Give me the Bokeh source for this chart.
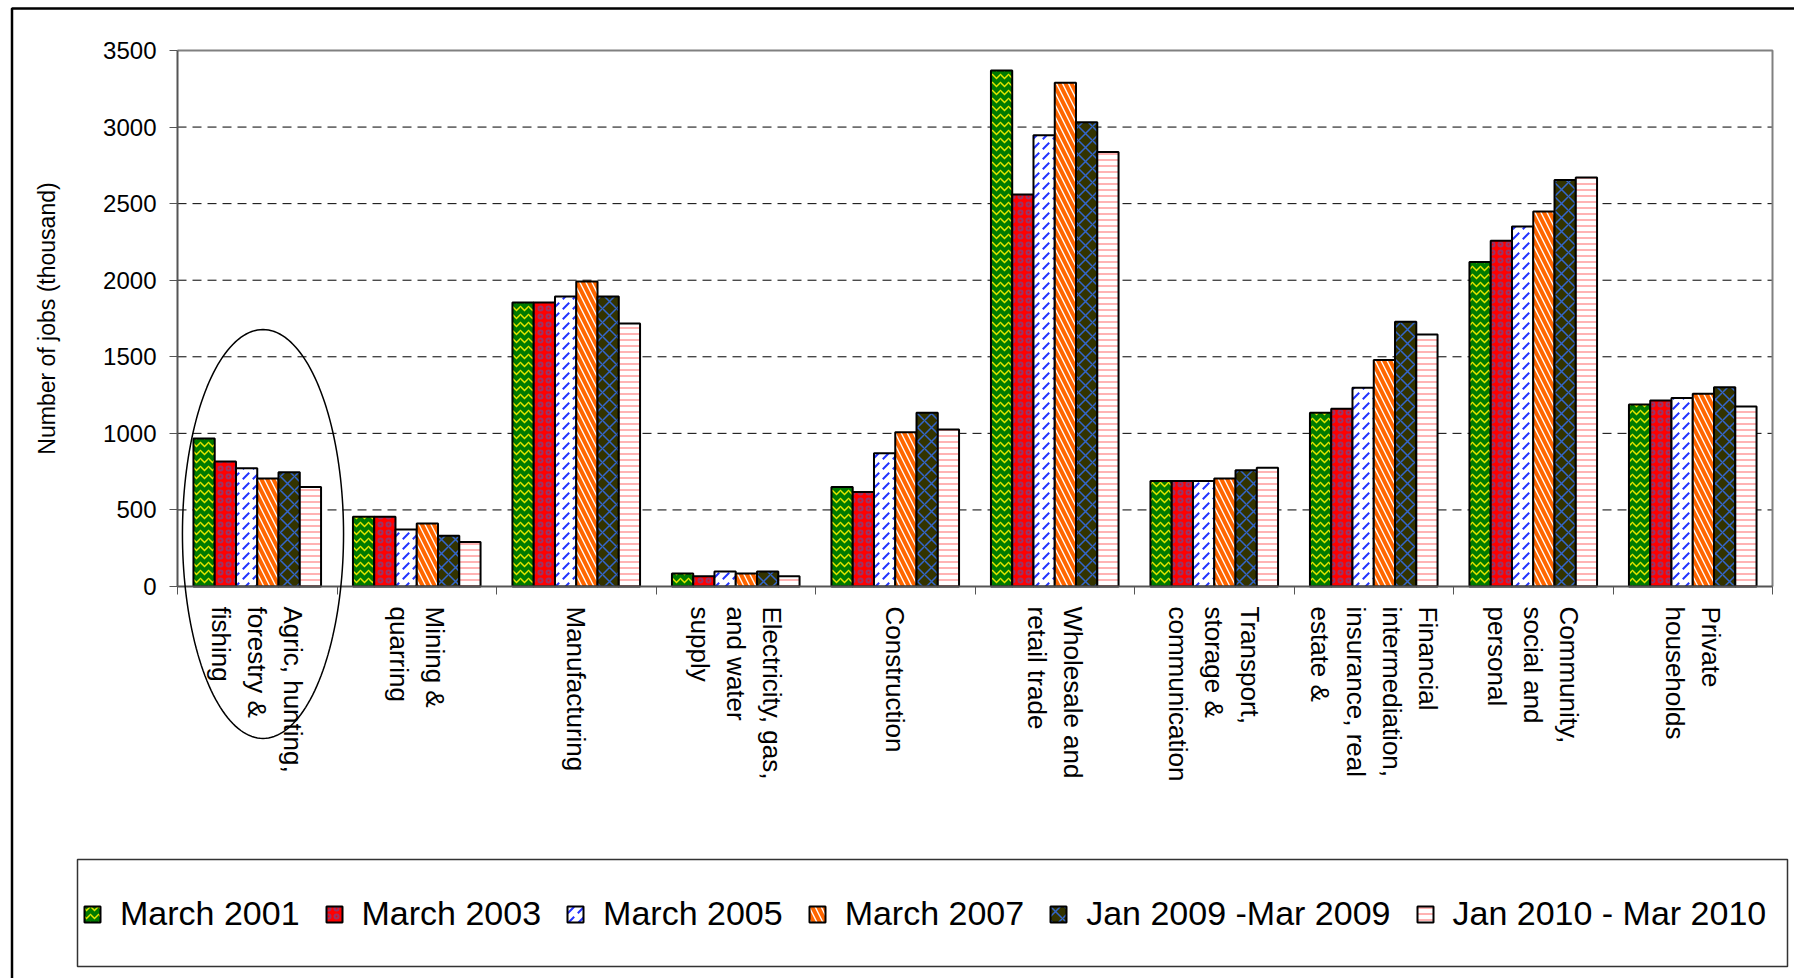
import math
import numpy as np
from bokeh.plotting import figure
from bokeh.models import (Range1d, FixedTicker, ColumnDataSource, Legend, LegendItem,
                          PolyAnnotation, BoxAnnotation)
from bokeh.core.properties import value
from bokeh.embed import file_html
from bokeh.resources import INLINE

# ---------------- data ----------------
categories = [
    "Agric, hunting,\nforestry &\nfishing",
    "Mining &\nquarring",
    "Manufacturing",
    "Electricity, gas,\nand water\nsupply",
    "Construction",
    "Wholesale and\nretail trade",
    "Transport,\nstorage &\ncommunication",
    "Financial\nintermediation,\ninsurance, real\nestate &",
    "Community,\nsocial and\npersonal",
    "Private\nhouseholds",
]
series_names = ["March 2001", "March 2003", "March 2005", "March 2007",
                "Jan 2009 -Mar 2009", "Jan 2010 - Mar 2010"]
march_2001 = [966, 456, 1855, 85, 650, 3370, 689, 1135, 2119, 1189]
march_2003 = [816, 456, 1855, 67, 617, 2560, 689, 1161, 2257, 1215]
march_2005 = [772, 373, 1894, 98, 870, 2946, 689, 1298, 2350, 1231]
march_2007 = [705, 412, 1992, 85, 1008, 3290, 705, 1479, 2448, 1259]
jan_mar_2009 = [746, 332, 1894, 98, 1135, 3031, 759, 1728, 2655, 1301]
jan_mar_2010 = [650, 290, 1718, 67, 1026, 2837, 775, 1645, 2671, 1176]
y_ticks = [0, 500, 1000, 1500, 2000, 2500, 3000, 3500]
grid_ticks = [500, 1000, 1500, 2000, 2500, 3000]
y_title = "Number of jobs (thousand)"

series_values = [march_2001, march_2003, march_2005, march_2007, jan_mar_2009, jan_mar_2010]

# ---------------- styles ----------------
fill_colors = ["#007a00", "#ff0000", "#ffffff", "#ffffff", "#333300", "#ffffff"]
hatch_patterns = ["horizontal_wave", "ring", "right_diagonal_dash", "left_diagonal_line",
                  "diagonal_cross", "horizontal_line"]
hatch_colors = ["#e6e600", "#993366", "#2233ff", "#ff6600", "#3366cc", "#ff9999"]
hatch_scales = [8, 8, 10, 12, 14, 6]
hatch_weights = [1.5, 2.0, 2.0, 4.0, 1.5, 1.5]

FONT = "Liberation Sans"

# ---------------- layout (canvas pixels) ----------------
W, H = 1794, 978
PLOT_L, PLOT_R, PLOT_T, PLOT_B = 177, 1772, 50, 586

n = len(categories)
k = len(series_values)
y_max = y_ticks[-1]

sx = (PLOT_R - PLOT_L) / n           # px per category
sy = (PLOT_B - PLOT_T) / y_max       # px per unit
x_range = Range1d(-PLOT_L / sx, n + (W - PLOT_R) / sx)
y_range = Range1d(-(H - PLOT_B) / sy, y_max + PLOT_T / sy)

p = figure(width=W, height=H, output_backend="svg", toolbar_location=None,
           title=None, x_range=x_range, y_range=y_range,
           min_border=0, min_border_left=0, min_border_right=0,
           min_border_top=0, min_border_bottom=0)
p.background_fill_color = "white"
p.border_fill_color = "white"
p.outline_line_color = None
p.xgrid.visible = False
p.ygrid.visible = False

# horizontal dashed grid lines across the plot area
p.segment(x0=0, x1=n, y0=grid_ticks, y1=grid_ticks, line_color="black",
          line_dash="9 6", line_width=1)
# plot area border (top and right)
p.line(x=[0, n, n], y=[y_max, y_max, 0], line_color="#808080", line_width=2)

bw = 0.8 / k
idx = np.arange(n)

renderers = []
for j, vals in enumerate(series_values):
    xs = idx + 0.5 + (j - (k - 1) / 2) * bw
    src = ColumnDataSource(dict(x=xs, top=vals))
    r = p.vbar(x="x", top="top", width=bw, bottom=0, source=src,
               fill_color=fill_colors[j], hatch_pattern=hatch_patterns[j],
               hatch_color=hatch_colors[j], hatch_scale=hatch_scales[j],
               hatch_weight=hatch_weights[j], line_color="black", line_width=2)
    renderers.append(r)

# y axis
ya = p.yaxis[0]
ya.fixed_location = 0
ya.bounds = (0, y_max)
ya.ticker = FixedTicker(ticks=y_ticks)
ya.axis_line_color = "#555555"
ya.axis_line_width = 2
ya.major_tick_out = 8
ya.major_tick_in = 0
ya.major_tick_line_color = "#555555"
ya.minor_tick_line_color = None
ya.major_label_text_font = FONT
ya.major_label_text_font_size = "24px"
ya.major_label_text_color = "black"
ya.major_label_standoff = 13

p.text(x=[-131 / sx], y=[y_max / 2], text=[y_title], angle=math.pi / 2,
       text_align="center", text_baseline="middle", text_font=value(FONT),
       text_font_size="23px", text_color="black")

# x axis
xa = p.xaxis[0]
xa.fixed_location = 0
xa.bounds = (0, n)
xa.ticker = FixedTicker(ticks=list(idx + 0.5), minor_ticks=list(range(n + 1)))
xa.major_label_overrides = {float(i + 0.5): categories[i] for i in range(n)}
xa.major_label_orientation = -math.pi / 2
xa.major_tick_out = 0
xa.major_tick_in = 0
xa.major_tick_line_color = None
xa.minor_tick_out = 8
xa.minor_tick_in = 0
xa.minor_tick_line_color = "#555555"
xa.axis_line_color = "#555555"
xa.axis_line_width = 2
xa.major_label_text_font = FONT
xa.major_label_text_font_size = "26px"
xa.major_label_text_color = "black"
xa.major_label_standoff = 12

# ellipse annotation around the first category
t = np.linspace(0, 2 * np.pi, 181)
ell_cx, ell_cy, ell_ax, ell_by = 0.536, 343, 0.505, 1335
ell = PolyAnnotation(xs=list(ell_cx + ell_ax * np.cos(t)), ys=list(ell_cy + ell_by * np.sin(t)),
                     xs_units="data", ys_units="data", fill_color=None, fill_alpha=0,
                     line_color="black", line_alpha=1, line_width=1.5)
p.add_layout(ell)

# outer chart border and legend box
outer = BoxAnnotation(left=11.5, right=W + 100, top=8, bottom=H + 100,
                      left_units="canvas", right_units="canvas", top_units="canvas",
                      bottom_units="canvas", fill_color=None, fill_alpha=0,
                      line_color="black", line_alpha=1, line_width=2.5)
p.add_layout(outer)
legbox = BoxAnnotation(left=77, right=1787, top=859, bottom=966,
                       left_units="canvas", right_units="canvas", top_units="canvas",
                       bottom_units="canvas", fill_color=None, fill_alpha=0,
                       line_color="#333333", line_alpha=1, line_width=1.5)
p.add_layout(legbox)

legend = Legend(items=[LegendItem(label=series_names[j], renderers=[renderers[j]]) for j in range(k)],
                orientation="horizontal", location=(82, 45))
legend.label_text_font = FONT
legend.label_text_font_size = "34px"
legend.label_text_color = "black"
legend.glyph_width = 20
legend.glyph_height = 20
legend.label_standoff = 18
legend.spacing = 24
legend.padding = 0
legend.margin = 0
legend.border_line_color = None
legend.background_fill_alpha = 0
p.add_layout(legend)

open("out.html", "w").write(file_html(p, INLINE))
